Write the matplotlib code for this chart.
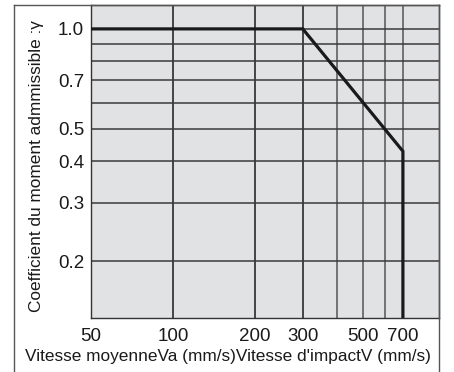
import matplotlib
matplotlib.use("Agg")
import matplotlib.pyplot as plt
from matplotlib.lines import Line2D

plt.rcParams['font.family'] = ['Liberation Sans', 'DejaVu Sans']

# curve: allowable moment coefficient vs impact speed
speed = [50, 300, 700, 700]
coef = [1.0, 1.0, 0.4286, 0.135]

x_ticks = [50, 100, 200, 300, 500, 700]
x_grid = [100, 200, 300, 400, 500, 600, 700]
y_ticks = [1.0, 0.7, 0.5, 0.4, 0.3, 0.2]
y_grid = [0.2, 0.3, 0.4, 0.5, 0.6, 0.7, 0.8, 0.9, 1.0]

fig = plt.figure(figsize=(4.54, 3.72), dpi=100)
ax = fig.add_axes([91 / 454, 1 - 318 / 372, (439 - 91) / 454, (318 - 5) / 372])
ax.set_facecolor('#e1e2e4')
ax.set_xscale('log')
ax.set_yscale('log')
ax.set_xlim(50, 950)
ax.set_ylim(0.135, 1.18)

for x in x_grid:
    c = '#1a1a1a' if x <= 300 else '#555555'
    ax.axvline(x, color=c, lw=1.1, zorder=1)
for y in y_grid:
    ax.axhline(y, color='#3a3a3a', lw=1.1, zorder=1)

ax.plot(speed, coef, color='#1a1a1a', lw=2.3, zorder=3, solid_joinstyle='miter')

ax.minorticks_off()
ax.set_xticks(x_ticks)
ax.set_xticklabels([str(v) for v in x_ticks], fontsize=13.5)
ax.set_yticks(y_ticks)
ax.set_yticklabels(['%.1f' % v for v in y_ticks], fontsize=13.5)
ax.tick_params(axis='x', length=0, pad=7, colors='#1a1a1a')
ax.tick_params(axis='y', length=0, pad=5, colors='#1a1a1a')
for s in ax.spines.values():
    s.set_color('#333333')
    s.set_linewidth(1.0)

fig.text(228 / 454, 1 - 357 / 372, "Vitesse moyenneVa (mm/s)Vitesse d'impactV (mm/s)",
         ha='center', va='center', fontsize=12.4, color='#1a1a1a')
fig.text(37 / 454, 1 - 166 / 372, "Coefficient du moment admmissible :γ",
         rotation=90, ha='center', va='center', fontsize=12.4, color='#1a1a1a')

# outer frame
fc = '#555555'
fig.add_artist(Line2D([14 / 454, 14 / 454], [0, 1 - 5 / 372], color=fc, lw=1.0))
fig.add_artist(Line2D([14 / 454, 439 / 454], [1 - 5 / 372, 1 - 5 / 372], color=fc, lw=1.0))
fig.add_artist(Line2D([439 / 454, 439 / 454], [0, 1 - 5 / 372], color=fc, lw=1.0))

fig.savefig('out.png', dpi=100)
